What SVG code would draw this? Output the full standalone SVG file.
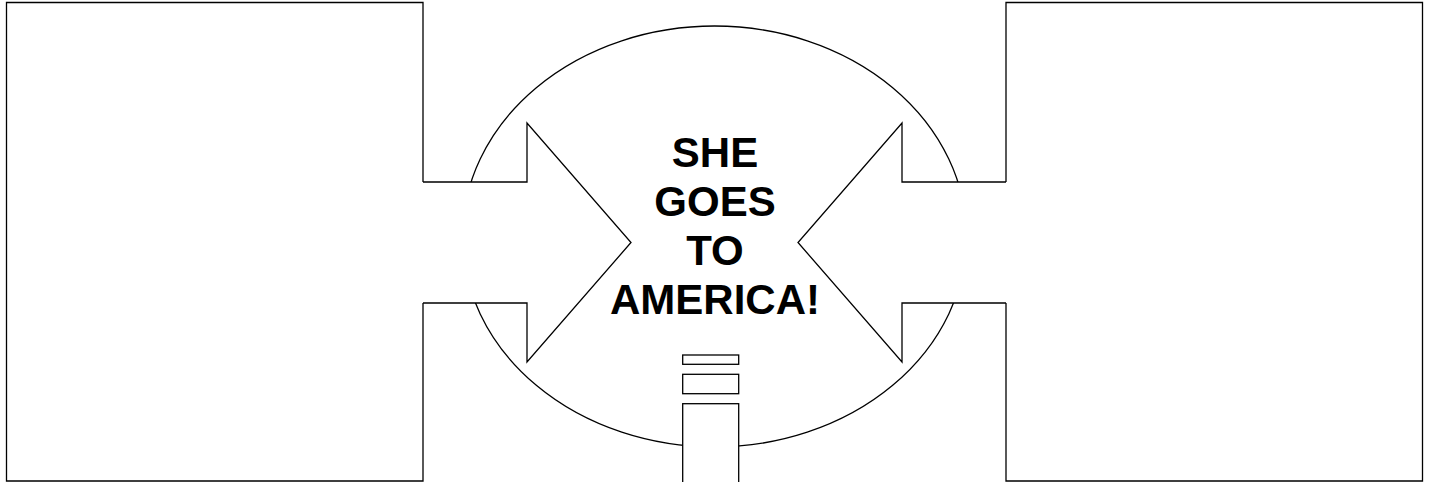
<svg xmlns="http://www.w3.org/2000/svg" width="1429" height="482" viewBox="0 0 1429 482">
<style>
.s{fill:#fff;stroke:#000;stroke-width:1.3;stroke-linejoin:miter}
.t{font-family:"Liberation Sans",Arial,sans-serif;font-weight:bold;font-size:42px;fill:#000;text-anchor:middle}
</style>
<rect x="0" y="0" width="1429" height="482" fill="#fff"/>
<g id="globe">
<ellipse class="s" cx="714.5" cy="236.5" rx="252" ry="210.5"/>
</g>
<g id="left-panel">
<path class="s" d="M423,182 L423,2.5 L6.5,2.5 L6.5,481 L423,481 L423,303"/>
</g>
<g id="right-panel">
<path class="s" d="M1006,182 L1006,2.5 L1422.5,2.5 L1422.5,481 L1006,481 L1006,303"/>
</g>
<g id="connectors">
<path id="left-arrow" class="s" d="M423,182 L527,182 L527,123 L631,242.5 L527,362 L527,303 L423,303"/>
<path id="right-arrow" class="s" d="M1006,182 L902,182 L902,123 L798,242.5 L902,362 L902,303 L1006,303"/>
</g>
<g id="stack">
<rect class="s" x="682.7" y="355" width="56" height="9.3"/>
<rect class="s" x="682.7" y="374.3" width="56" height="19.4"/>
<rect class="s" x="682.7" y="403.7" width="56" height="90"/>
</g>
<g id="label">
<text class="t" x="715" y="167">SHE</text>
<text class="t" x="715" y="215.5">GOES</text>
<text class="t" x="715" y="265">TO</text>
<text class="t" x="715" y="314">AMERICA!</text>
</g>
</svg>
